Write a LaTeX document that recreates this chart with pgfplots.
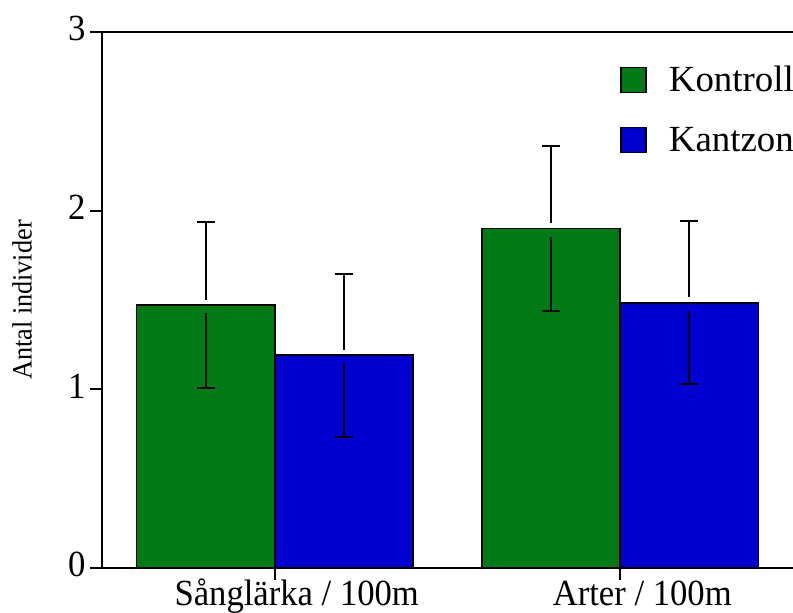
\documentclass[border=0pt]{standalone}
\usepackage{pgfplots}
\pgfplotsset{compat=1.18}
\usepackage{fontspec}
\setmainfont{Liberation Serif}[FakeStretch=0.94]
\newfontfamily\legfont{Liberation Serif}
\definecolor{cgreen}{RGB}{0,122,20}
\definecolor{cblue}{RGB}{0,0,208}
\begin{document}
\begin{tikzpicture}
\begin{axis}[
  scale only axis,
  width=691bp, height=536bp,
  xmin=-0.5, xmax=1.5,
  ymin=0, ymax=3,
  axis x line=box, axis y line=left,
  axis line style={line width=1.8bp, -},
  xtick={0,1}, xticklabels={Sånglärka / 100m, Arter / 100m},
  xtick pos=bottom, ytick pos=left,
  ytick={0,1,2,3},
  tick align=outside,
  major tick length=12bp,
  tick style={line width=1.8bp, black},
  /pgf/number format/assume math mode=true,
  tick label style={font=\fontsize{37}{44}\selectfont},
  typeset ticklabels with strut,
  xticklabel style={xshift=22bp, yshift=9bp},
  yticklabel style={xshift=-1bp},
  ylabel={Antal individer},
  every axis y label/.style={at={(axis description cs:0,0.5)}, rotate=90, anchor=center, yshift=80bp, font=\fontsize{28}{32}\selectfont},
  bar width=0.4,
  legend style={at={(0.75,0.94)}, anchor=north west, draw=none, fill=none, font=\legfont\fontsize{37}{44}\selectfont, row sep=30bp, inner sep=0pt,
    /tikz/every odd column/.append style={column sep=20bp}},
  legend cell align=left,
  legend image code/.code={\draw[#1, line width=1.5bp] (0bp,-12.5bp) rectangle (25bp,12.5bp);},
]
% bars
\addplot[ybar, bar shift=0pt, fill=cgreen, draw=black, line width=1.8bp]
  coordinates {(-0.2,1.47) (0.8,1.90)};
\addlegendentry{Kontroll}
\addplot[ybar, bar shift=0pt, fill=cblue, draw=black, line width=1.8bp]
  coordinates {(0.2,1.19) (1.2,1.485)};
\addlegendentry{Kantzon}
% upper parts of the error bars (start just above bar tops)
\addplot[draw=none, mark=none, forget plot,
  error bars/.cd, y dir=plus, y explicit,
  error bar style={draw=black, line width=2bp},
  error mark options={rotate=90, draw=black, line width=2bp, mark size=9bp}]
  coordinates {(-0.2,1.50) += (0,0.435) (0.2,1.22) += (0,0.425)
               (0.8,1.93) += (0,0.43) (1.2,1.515) += (0,0.425)};
% lower parts of the error bars (start just below bar tops)
\addplot[draw=none, mark=none, forget plot,
  error bars/.cd, y dir=minus, y explicit,
  error bar style={draw=black, line width=2bp},
  error mark options={rotate=90, draw=black, line width=2bp, mark size=9bp}]
  coordinates {(-0.2,1.425) -= (0,0.42) (0.2,1.145) -= (0,0.41)
               (0.8,1.855) -= (0,0.415) (1.2,1.44) -= (0,0.41)};
\end{axis}
\pgfresetboundingbox
\useasboundingbox (current axis.south west) ++(-102bp,-45bp) rectangle ++(793bp,613bp);
\end{tikzpicture}
\end{document}
